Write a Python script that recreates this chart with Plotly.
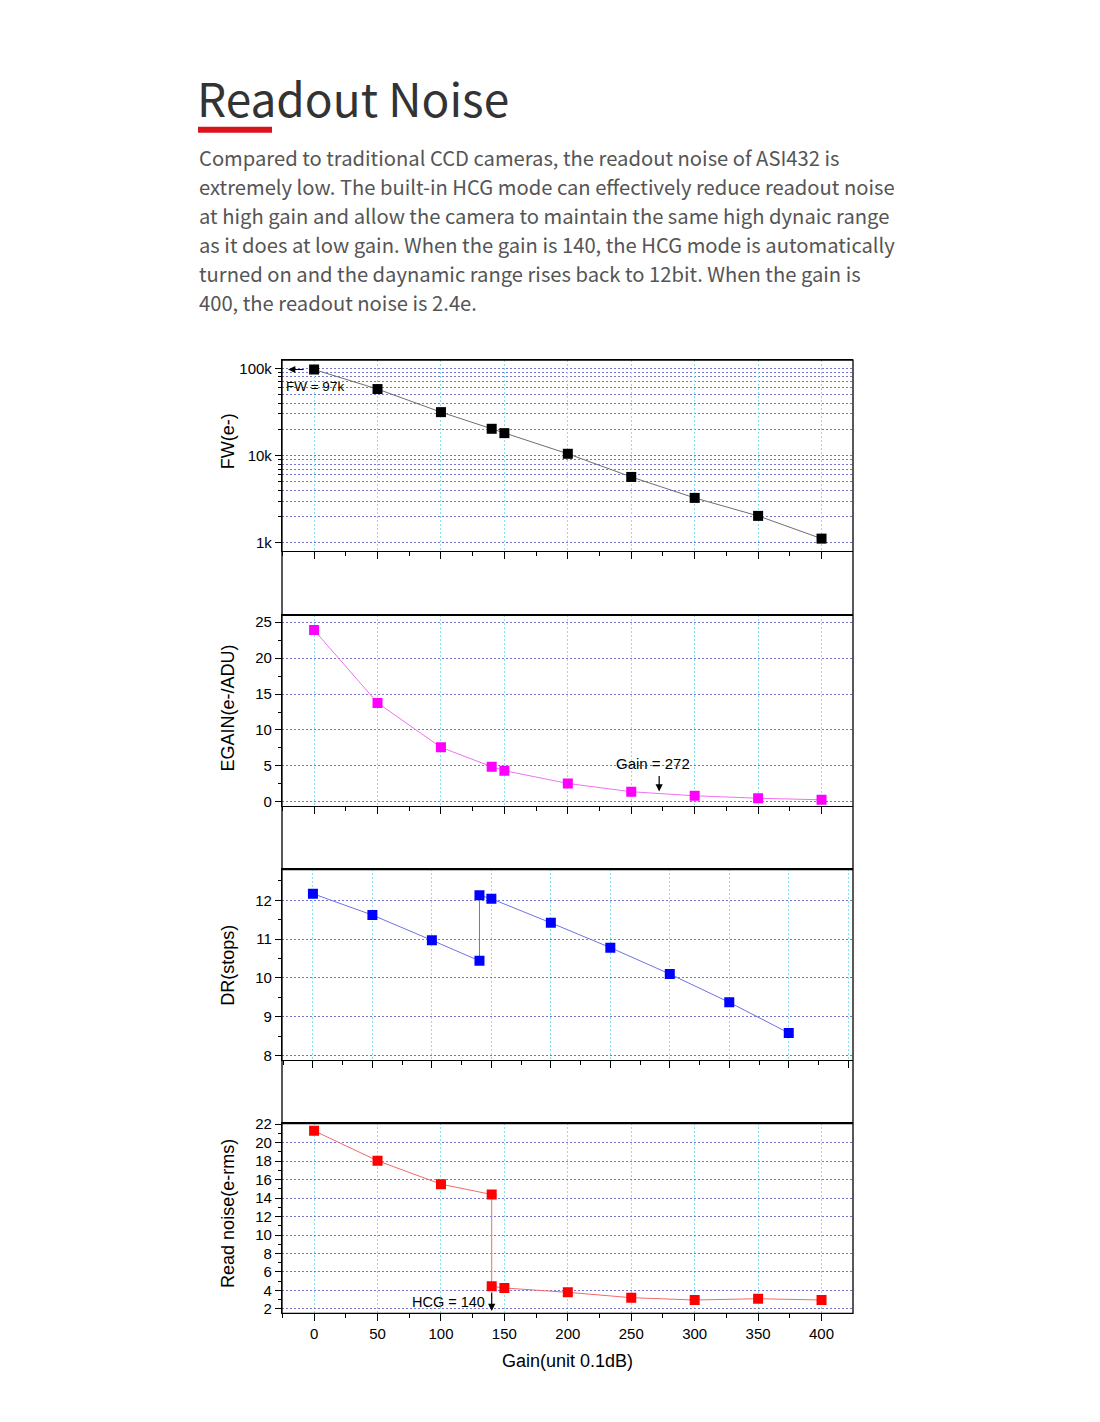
import plotly.graph_objects as go

# ---------------- data ----------------
gain = [0, 50, 100, 140, 150, 200, 250, 300, 350, 400]
fw = [97000, 57900, 31500, 20300, 18100, 10500, 5700, 3280, 2040, 1120]
egain = [23.9, 13.77, 7.58, 4.89, 4.33, 2.56, 1.40, 0.84, 0.50, 0.28]
dr_gain = [0, 50, 100, 140, 140, 150, 200, 250, 300, 350, 400]
dr = [12.17, 11.62, 10.97, 10.44, 12.13, 12.04, 11.42, 10.78, 10.10, 9.37, 8.58]
rn_gain = [0, 50, 100, 140, 140, 150, 200, 250, 300, 350, 400]
rn = [21.27, 18.03, 15.5, 14.38, 4.45, 4.27, 3.8, 3.22, 2.97, 3.11, 2.97]
fw_ticks = [1000, 10000, 100000]
fw_ticktext = ["1k", "10k", "100k"]
fw_minor = [2000, 3000, 4000, 5000, 6000, 7000, 8000, 9000,
            20000, 30000, 40000, 50000, 60000, 70000, 80000, 90000]

title = "Readout Noise"
para = [
    "Compared to traditional CCD cameras, the readout noise of ASI432 is",
    "extremely low. The built-in HCG mode can effectively reduce readout noise",
    "at high gain and allow the camera to maintain the same high dynaic range",
    "as it does at low gain. When the gain is 140, the HCG mode is automatically",
    "turned on and the daynamic range rises back to 12bit. When the gain is",
    "400, the readout noise is 2.4e.",
]

W, H = 1100, 1422
XOFF = 8
YOFF, YSC = 16.3, 0.99055
def px(x):
    return (x - XOFF) / W
def py(y):
    return 1 - ((y - YOFF) / YSC) / H
def ydom(top, bot):
    return [py(bot), py(top)]

FONT = "Liberation Sans"
XD = [px(282), px(853)]
HGRID = "#7676d0"
VGRID = "#86e0f2"
GDASH = "2px,2px"

fig = go.Figure()

def add(x, y, xa, ya, mcolor, lcolor):
    fig.add_trace(go.Scatter(
        x=x, y=y, xaxis=xa, yaxis=ya, mode="lines+markers",
        line=dict(color=lcolor, width=1),
        marker=dict(symbol="square", size=10, color=mcolor),
        showlegend=False, hoverinfo="x+y"))

add(gain, fw, "x2", "y2", "#000000", "#6e6e6e")
add(gain, egain, "x3", "y3", "#ff00ff", "#f070f0")
add(dr_gain, dr, "x4", "y4", "#0000ff", "#7070e8")
add(rn_gain, rn, "x", "y", "#ff0000", "#f06a6a")

def xax(anchor, rng, labels):
    return dict(
        domain=XD, anchor=anchor, range=rng, tickmode="linear",
        tick0=0, dtick=50, ticks="outside", ticklen=7, tickwidth=1.2, tickcolor="black",
        minor=dict(dtick=25, ticks="outside", ticklen=4, tickcolor="black", showgrid=False),
        showgrid=True, gridcolor=VGRID, griddash=GDASH, gridwidth=1,
        showline=True, linecolor="black", linewidth=1.3, mirror=True,
        zeroline=False, showticklabels=labels,
        tickfont=dict(family=FONT, size=15, color="black"),
    )

xr = [-25.3, 424.8]
fig.update_layout(
    width=W, height=H, margin=dict(l=0, r=0, t=0, b=0),
    paper_bgcolor="white", plot_bgcolor="white",
    xaxis=xax("y", xr, True),
    xaxis2=xax("y2", xr, False),
    xaxis3=xax("y3", xr, False),
    xaxis4=xax("y4", [-26, 454], False),
)

def yax(dom, anchor, **kw):
    d = dict(
        domain=dom, anchor=anchor, ticks="outside", ticklen=6, tickwidth=1.2, tickcolor="black",
        showgrid=True, gridcolor=HGRID, griddash=GDASH, gridwidth=1,
        showline=True, linecolor="black", linewidth=1.3, zeroline=False,
        tickfont=dict(family=FONT, size=15, color="black"),
    )
    d.update(kw)
    return d

fig.update_layout(
    yaxis2=yax(ydom(360, 550.7), "x2", type="log", range=[2.908, 5.095],
               tickmode="array", tickvals=fw_ticks, ticktext=fw_ticktext,
               minor=dict(tickmode="array", tickvals=fw_minor, ticks="outside", ticklen=3,
                          tickcolor="black", showgrid=True, gridcolor=HGRID, griddash=GDASH)),
    yaxis3=yax(ydom(614.7, 805.7), "x3", range=[-0.61, 26.0], dtick=5, tick0=0,
               minor=dict(dtick=2.5, ticks="outside", ticklen=3, tickcolor="black", showgrid=False)),
    yaxis4=yax(ydom(868.7, 1059), "x4", range=[7.89, 12.8], dtick=1, tick0=0,
               minor=dict(dtick=0.5, ticks="outside", ticklen=3, tickcolor="black", showgrid=False)),
    yaxis=yax(ydom(1122.3, 1312.3), "x", range=[1.53, 22.1], dtick=2, tick0=0,
              minor=dict(dtick=1, ticks="outside", ticklen=3, tickcolor="black", showgrid=False)),
)

# frame around the whole stacked chart
fig.add_shape(type="rect", xref="paper", yref="paper",
              x0=px(282), x1=px(853), y0=py(1312.3), y1=py(360),
              line=dict(color="black", width=1.3), layer="above")
for yy in (614.7, 868.7, 1122.3):
    fig.add_shape(type="line", xref="paper", yref="paper",
                  x0=px(282), x1=px(853), y0=py(yy), y1=py(yy),
                  line=dict(color="black", width=2), layer="above")

# red underline under title
fig.add_shape(type="rect", xref="paper", yref="paper",
              x0=px(198), x1=px(272), y0=py(133), y1=py(127),
              line=dict(width=0), fillcolor="#d9141b")

ann = []
ann.append(dict(text=title, xref="paper", yref="paper", x=px(195), y=py(97.5),
                xanchor="left", yanchor="middle", showarrow=False,
                font=dict(family="Noto Sans CJK SC", size=46, color="#333333")))
for i, line in enumerate(para):
    ann.append(dict(text=line, xref="paper", yref="paper", x=px(197), y=py(157.5 + 29 * i),
                    xanchor="left", yanchor="middle", showarrow=False,
                    font=dict(family="Noto Sans CJK SC", size=20.2, color="#555555")))

# y titles
for txt, yc in (("FW(e-)", 441), ("EGAIN(e-/ADU)", 708), ("DR(stops)", 965), ("Read noise(e-rms)", 1213)):
    ann.append(dict(text=txt, xref="paper", yref="paper", x=px(228), y=py(yc),
                    xanchor="center", yanchor="middle", textangle=-90, showarrow=False,
                    font=dict(family=FONT, size=18, color="black")))
ann.append(dict(text="Gain(unit 0.1dB)", xref="paper", yref="paper", x=px(568), y=py(1360),
                xanchor="center", yanchor="middle", showarrow=False,
                font=dict(family=FONT, size=18, color="black")))

# in-plot annotations
ann.append(dict(x=-20.5, y=4.9868, xref="x2", yref="y2", ax=17, ay=0, text="",
                showarrow=True, arrowhead=2, arrowsize=1.2, arrowwidth=1.2, arrowcolor="black"))
ann.append(dict(x=-24, y=4.797, xref="x2", yref="y2", text="FW = 97k", xanchor="left",
                yanchor="middle", showarrow=False, font=dict(family=FONT, size=13.5, color="black")))
ann.append(dict(x=272, y=1.45, xref="x3", yref="y3", ax=0, ay=-17, text="",
                showarrow=True, arrowhead=2, arrowsize=1.2, arrowwidth=1.2, arrowcolor="black"))
ann.append(dict(x=267, y=5.35, xref="x3", yref="y3", text="Gain = 272", xanchor="center",
                yanchor="middle", showarrow=False, font=dict(family=FONT, size=15, color="black")))
ann.append(dict(x=140, y=1.78, xref="x", yref="y", ax=0, ay=-20, text="",
                showarrow=True, arrowhead=2, arrowsize=1.2, arrowwidth=1.2, arrowcolor="black"))
ann.append(dict(x=136, y=2.75, xref="x", yref="y", text="HCG = 140", xanchor="right",
                yanchor="middle", showarrow=False, font=dict(family=FONT, size=14.5, color="black")))

fig.update_layout(annotations=ann)
fig.write_html("out.html")
